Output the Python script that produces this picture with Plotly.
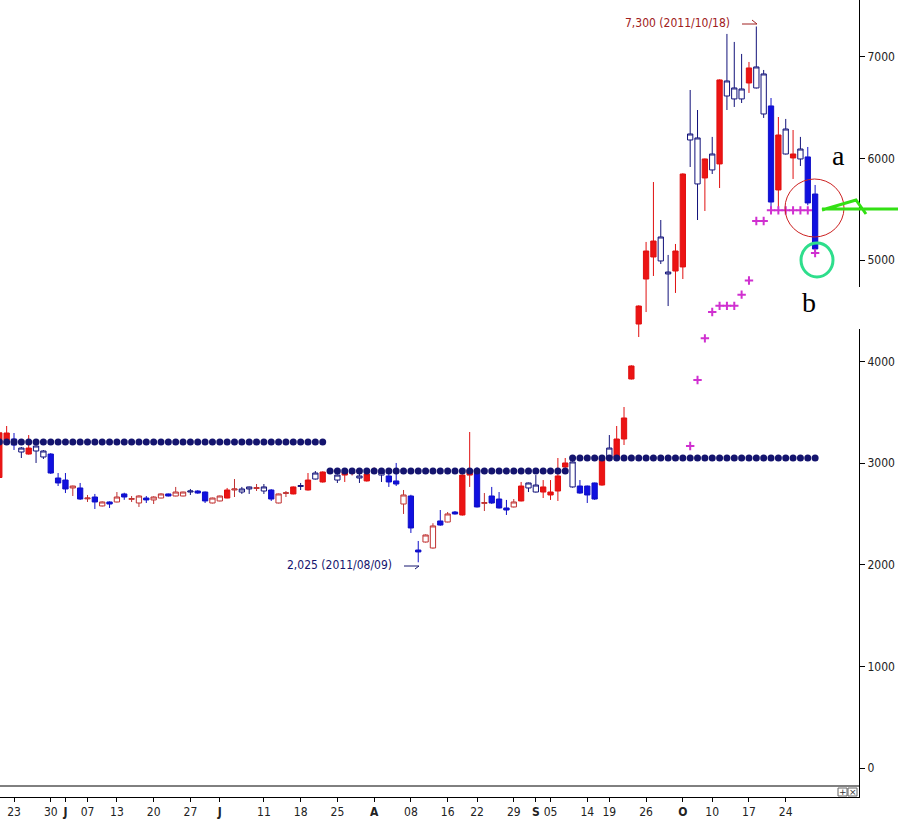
import pandas as pd
import plotly.graph_objects as go

# ---------------- data ----------------
holidays = ['2011-06-06', '2011-08-15', '2011-09-12', '2011-09-13', '2011-10-03']
dates = [d for d in pd.bdate_range('2011-05-19', '2011-10-28')
         if d.strftime('%Y-%m-%d') not in holidays]

# style: R = red filled, r = red hollow, B = blue filled, b = navy hollow
kind = list("RRBbRbbBBB" "rBrBrBrBrr" "BrrBrrbBBr" "rRrbbrbBrr" "RbRbRRbRRb"
            "RrbBBrBBrr" "BrBRRBrBBB" "rRbbRRRRbB" "BBRbRRRRRR" "bbRRbbRbRb"
            "bbRbbBRbRb" "BB")
open_ = [2860, 3229, 3239, 3111, 3091, 3121, 3062, 3091, 2855, 2835,
         2757, 2757, 2650, 2668, 2580, 2619, 2619, 2698, 2645, 2609,
         2658, 2639, 2658, 2698, 2678, 2678, 2717, 2727, 2717, 2609,
         2629, 2658, 2737, 2717, 2747, 2752, 2727, 2737, 2609, 2703,
         2698, 2772, 2737, 2845, 2816, 2915, 2835, 2884, 2904, 2855,
         2826, 2920, 2884, 2875, 2826, 2599, 2678, 2146, 2225, 2166,
         2432, 2422, 2520, 2491, 2884, 2934, 2605, 2678, 2648, 2560,
         2570, 2629, 2757, 2717, 2717, 2688, 2727, 2963, 2767, 2776,
         2776, 2806, 2786, 3052, 3062, 3239, 3830, 4371, 4814, 5031,
         4992, 4864, 4893, 4933, 6183, 5750, 5809, 5888, 5947, 6616,
         6587, 6587, 6744, 6695, 6439, 6518, 5691, 6045, 6006, 5996,
         6016, 5651]
high = [3310, 3367, 3298, 3160, 3278, 3175, 3130, 3100, 2904, 2904,
        2780, 2806, 2688, 2698, 2625, 2625, 2717, 2710, 2678, 2685,
        2678, 2675, 2705, 2702, 2767, 2720, 2747, 2735, 2722, 2662,
        2682, 2757, 2845, 2767, 2770, 2796, 2796, 2745, 2702, 2727,
        2772, 2806, 2904, 2924, 2920, 2950, 2890, 2930, 2925, 2904,
        2900, 2960, 2920, 2914, 3003, 2737, 2690, 2235, 2300, 2410,
        2540, 2520, 2530, 2890, 3308, 2960, 2707, 2767, 2717, 2639,
        2648, 2816, 2810, 2884, 2835, 2835, 3052, 3052, 3020, 2835,
        2780, 2810, 3060, 3278, 3367, 3554, 3965, 4555, 5179, 5769,
        5395, 5051, 5159, 5855, 6675, 6478, 6000, 6213, 6780, 7227,
        7148, 7030, 6951, 7300, 6872, 6596, 6409, 6390, 6281, 6213,
        6114, 5740]
low = [2850, 3180, 3131, 3052, 3085, 3003, 3042, 2895, 2776, 2707,
       2678, 2640, 2619, 2550, 2575, 2560, 2615, 2640, 2619, 2570,
       2609, 2599, 2655, 2674, 2675, 2675, 2688, 2700, 2609, 2605,
       2625, 2655, 2668, 2698, 2698, 2727, 2698, 2629, 2605, 2668,
       2694, 2737, 2732, 2840, 2810, 2905, 2806, 2816, 2880, 2806,
       2820, 2895, 2816, 2767, 2776, 2501, 2314, 2025, 2220, 2160,
       2385, 2418, 2495, 2485, 2767, 2565, 2530, 2600, 2555, 2491,
       2565, 2625, 2717, 2712, 2658, 2639, 2629, 2955, 2760, 2700,
       2609, 2640, 2780, 3045, 3055, 3180, 3825, 4243, 4489, 4844,
       4962, 4548, 4677, 4814, 5917, 5395, 5484, 5848, 5710, 6478,
       6508, 6547, 6646, 6690, 6400, 5520, 5513, 6040, 5799, 5927,
       5540, 5080]
close = [3300, 3298, 3180, 3150, 3150, 3170, 3121, 2904, 2806, 2747,
         2776, 2648, 2658, 2619, 2619, 2599, 2668, 2668, 2652, 2678,
         2639, 2668, 2698, 2678, 2717, 2717, 2727, 2707, 2629, 2658,
         2678, 2737, 2747, 2747, 2767, 2760, 2767, 2648, 2698, 2710,
         2767, 2780, 2835, 2904, 2914, 2930, 2884, 2914, 2914, 2875,
         2894, 2928, 2914, 2816, 2796, 2688, 2363, 2127, 2294, 2383,
         2392, 2501, 2501, 2884, 2934, 2570, 2613, 2609, 2560, 2540,
         2619, 2776, 2806, 2786, 2767, 2717, 2875, 3003, 3013, 2707,
         2688, 2648, 3052, 3150, 3239, 3446, 3958, 4548, 5090, 5188,
         5228, 4883, 5090, 5848, 6242, 6203, 5996, 6045, 6774, 6764,
         6695, 6685, 6892, 6902, 6833, 5572, 6232, 6291, 6045, 6094,
         5563, 5110]

band_start = ['2011-05-19', '2011-07-22', '2011-09-08']
band_end = ['2011-07-21', '2011-09-07', '2011-10-28']
band_level = [3210, 2924, 3052]

sar_start = '2011-10-05'
sar_values = [3170, 3820, 4230, 4490, 4550, 4550, 4550, 4660, 4800,
              5385, 5385, 5490, 5490, 5490, 5490, 5490, 5490, 5070]

tick_dates = ['2011-05-23', '2011-05-30', '2011-06-01', '2011-06-07', '2011-06-13',
              '2011-06-20', '2011-06-27', '2011-07-01', '2011-07-11', '2011-07-18',
              '2011-07-25', '2011-08-01', '2011-08-08', '2011-08-16', '2011-08-22',
              '2011-08-29', '2011-09-01', '2011-09-05', '2011-09-14', '2011-09-19',
              '2011-09-26', '2011-10-04', '2011-10-10', '2011-10-17', '2011-10-24']
tick_text = ['23', '30', '<b>J</b>', '07', '13', '20', '27', '<b>J</b>', '11', '18',
             '25', '<b>A</b>', '08', '16', '22', '29', '<b>S</b>', '05', '14', '19',
             '26', '<b>O</b>', '10', '17', '24']
y_ticks = [0, 1000, 2000, 3000, 4000, 5000, 6000, 7000]

# ---------------- figure ----------------
idx_of = {d.strftime('%Y-%m-%d'): i for i, d in enumerate(dates)}
xs = list(range(len(dates)))

styles = {
    'R': dict(fill='#ec1414', line='#e01010'),
    'r': dict(fill='#ffffff', line='#c03030'),
    'B': dict(fill='#1010e0', line='#1010c8'),
    'b': dict(fill='#ffffff', line='#12127a'),
}

fig = go.Figure()

for k, st in styles.items():
    sel = [i for i in xs if kind[i] == k]
    side = dict(fillcolor=st['fill'], line=dict(color=st['line'], width=1))
    fig.add_trace(go.Candlestick(
        x=sel,
        open=[open_[i] for i in sel], high=[high[i] for i in sel],
        low=[low[i] for i in sel], close=[close[i] for i in sel],
        increasing=side, decreasing=side, whiskerwidth=0,
        showlegend=False, hoverinfo='skip'))

for s, e, lv in zip(band_start, band_end, band_level):
    bx = list(range(idx_of[s], idx_of[e] + 1))
    fig.add_trace(go.Scatter(
        x=bx, y=[lv] * len(bx), mode='markers',
        marker=dict(symbol='circle', size=7, color='#14146e'),
        showlegend=False, hoverinfo='skip'))

sx = list(range(idx_of[sar_start], idx_of[sar_start] + len(sar_values)))
fig.add_trace(go.Scatter(
    x=sx, y=sar_values, mode='markers',
    marker=dict(symbol='cross-thin', size=6, line=dict(color='#d030d0', width=2)),
    showlegend=False, hoverinfo='skip'))

PW, PH = 859.0, 797.0
def px(x):
    return x / PW
def py(y):
    return 1 - y / PH

small_font = "Liberation Sans Narrow, DejaVu Sans Condensed, Arial Narrow, sans-serif"

shapes = [
    dict(type='line', xref='paper', yref='paper', x0=0, x1=1, y0=py(786), y1=py(786),
         line=dict(color='black', width=1)),
    dict(type='path', xref='paper', yref='paper',
         path=f"M {px(742)},{py(24)} L {px(757)},{py(24)} L {px(752)},{py(20)}",
         line=dict(color='#a02020', width=1)),
    dict(type='path', xref='paper', yref='paper',
         path=f"M {px(404)},{py(566)} L {px(419)},{py(566)} L {px(415)},{py(569)}",
         line=dict(color='#14146e', width=1)),
    dict(type='circle', xref='paper', yref='paper', x0=px(785), x1=px(844),
         y0=py(237), y1=py(179), line=dict(color='#cc2020', width=1)),
    dict(type='circle', xref='paper', yref='paper', x0=px(801), x1=px(833),
         y0=py(277), y1=py(243), line=dict(color='#2ede8c', width=3)),
    dict(type='path', xref='paper', yref='paper',
         path=(f"M {px(822)},{py(209)} L {px(898)},{py(209)} "
               f"M {px(822)},{py(210)} L {px(856)},{py(200)} L {px(866)},{py(214)}"),
         line=dict(color='#33e014', width=3)),
    dict(type='rect', xref='paper', yref='paper', x0=px(796), x1=px(863),
         y0=py(329), y1=py(287), fillcolor='white', line=dict(width=0), layer='above'),
    dict(type='rect', xref='paper', yref='paper', x0=px(838), x1=px(847),
         y0=py(796), y1=py(788), line=dict(color='#666666', width=1), fillcolor='white'),
    dict(type='rect', xref='paper', yref='paper', x0=px(848), x1=px(857),
         y0=py(796), y1=py(788), line=dict(color='#666666', width=1), fillcolor='white'),
]

annotations = [
    dict(text='7,300 (2011/10/18)', xref='paper', yref='paper', x=px(732), y=py(23),
         xanchor='right', yanchor='middle', showarrow=False,
         font=dict(family=small_font, size=12, color='#a02020')),
    dict(text='2,025 (2011/08/09)', xref='paper', yref='paper', x=px(394), y=py(565),
         xanchor='right', yanchor='middle', showarrow=False,
         font=dict(family=small_font, size=12, color='#14146e')),
    dict(text='a', xref='paper', yref='paper', x=px(838), y=py(155),
         xanchor='center', yanchor='middle', showarrow=False,
         font=dict(family='Liberation Serif, Times New Roman, serif', size=28, color='black')),
    dict(text='b', xref='paper', yref='paper', x=px(809), y=py(302),
         xanchor='center', yanchor='middle', showarrow=False,
         font=dict(family='Liberation Serif, Times New Roman, serif', size=28, color='black')),
    dict(text='+', xref='paper', yref='paper', x=px(842.5), y=py(792),
         xanchor='center', yanchor='middle', showarrow=False,
         font=dict(family='DejaVu Sans', size=9, color='#333333')),
    dict(text='×', xref='paper', yref='paper', x=px(852.5), y=py(792),
         xanchor='center', yanchor='middle', showarrow=False,
         font=dict(family='DejaVu Sans', size=9, color='#333333')),
]

fig.update_layout(
    width=912, height=820,
    margin=dict(l=0, r=53, t=0, b=23, pad=0),
    paper_bgcolor='white', plot_bgcolor='white',
    boxgap=0.1, boxgroupgap=0.2,
    showlegend=False,
    shapes=shapes, annotations=annotations,
    font=dict(family=small_font, size=12, color='#222222'),
    xaxis=dict(
        range=[0.095, 116.97], rangeslider=dict(visible=False),
        tickmode='array', tickvals=[idx_of[t] for t in tick_dates], ticktext=tick_text,
        ticks='outside', ticklen=4, tickcolor='black', showgrid=False, zeroline=False,
        showline=True, linecolor='black', linewidth=1,
        tickfont=dict(family=small_font, size=12, color='#222222'),
    ),
    yaxis=dict(
        side='right', range=[-285.5, 7561],
        tickmode='array', tickvals=y_ticks, ticktext=[str(v) for v in y_ticks],
        ticks='outside', ticklen=5, tickcolor='black', showgrid=False, zeroline=False,
        showline=True, linecolor='black', linewidth=1,
        tickfont=dict(family=small_font, size=12, color='#222222'),
    ),
)

fig.write_html("out.html", config={'displayModeBar': False},
               post_script="document.body.style.margin='0';document.body.style.overflow='hidden';")
